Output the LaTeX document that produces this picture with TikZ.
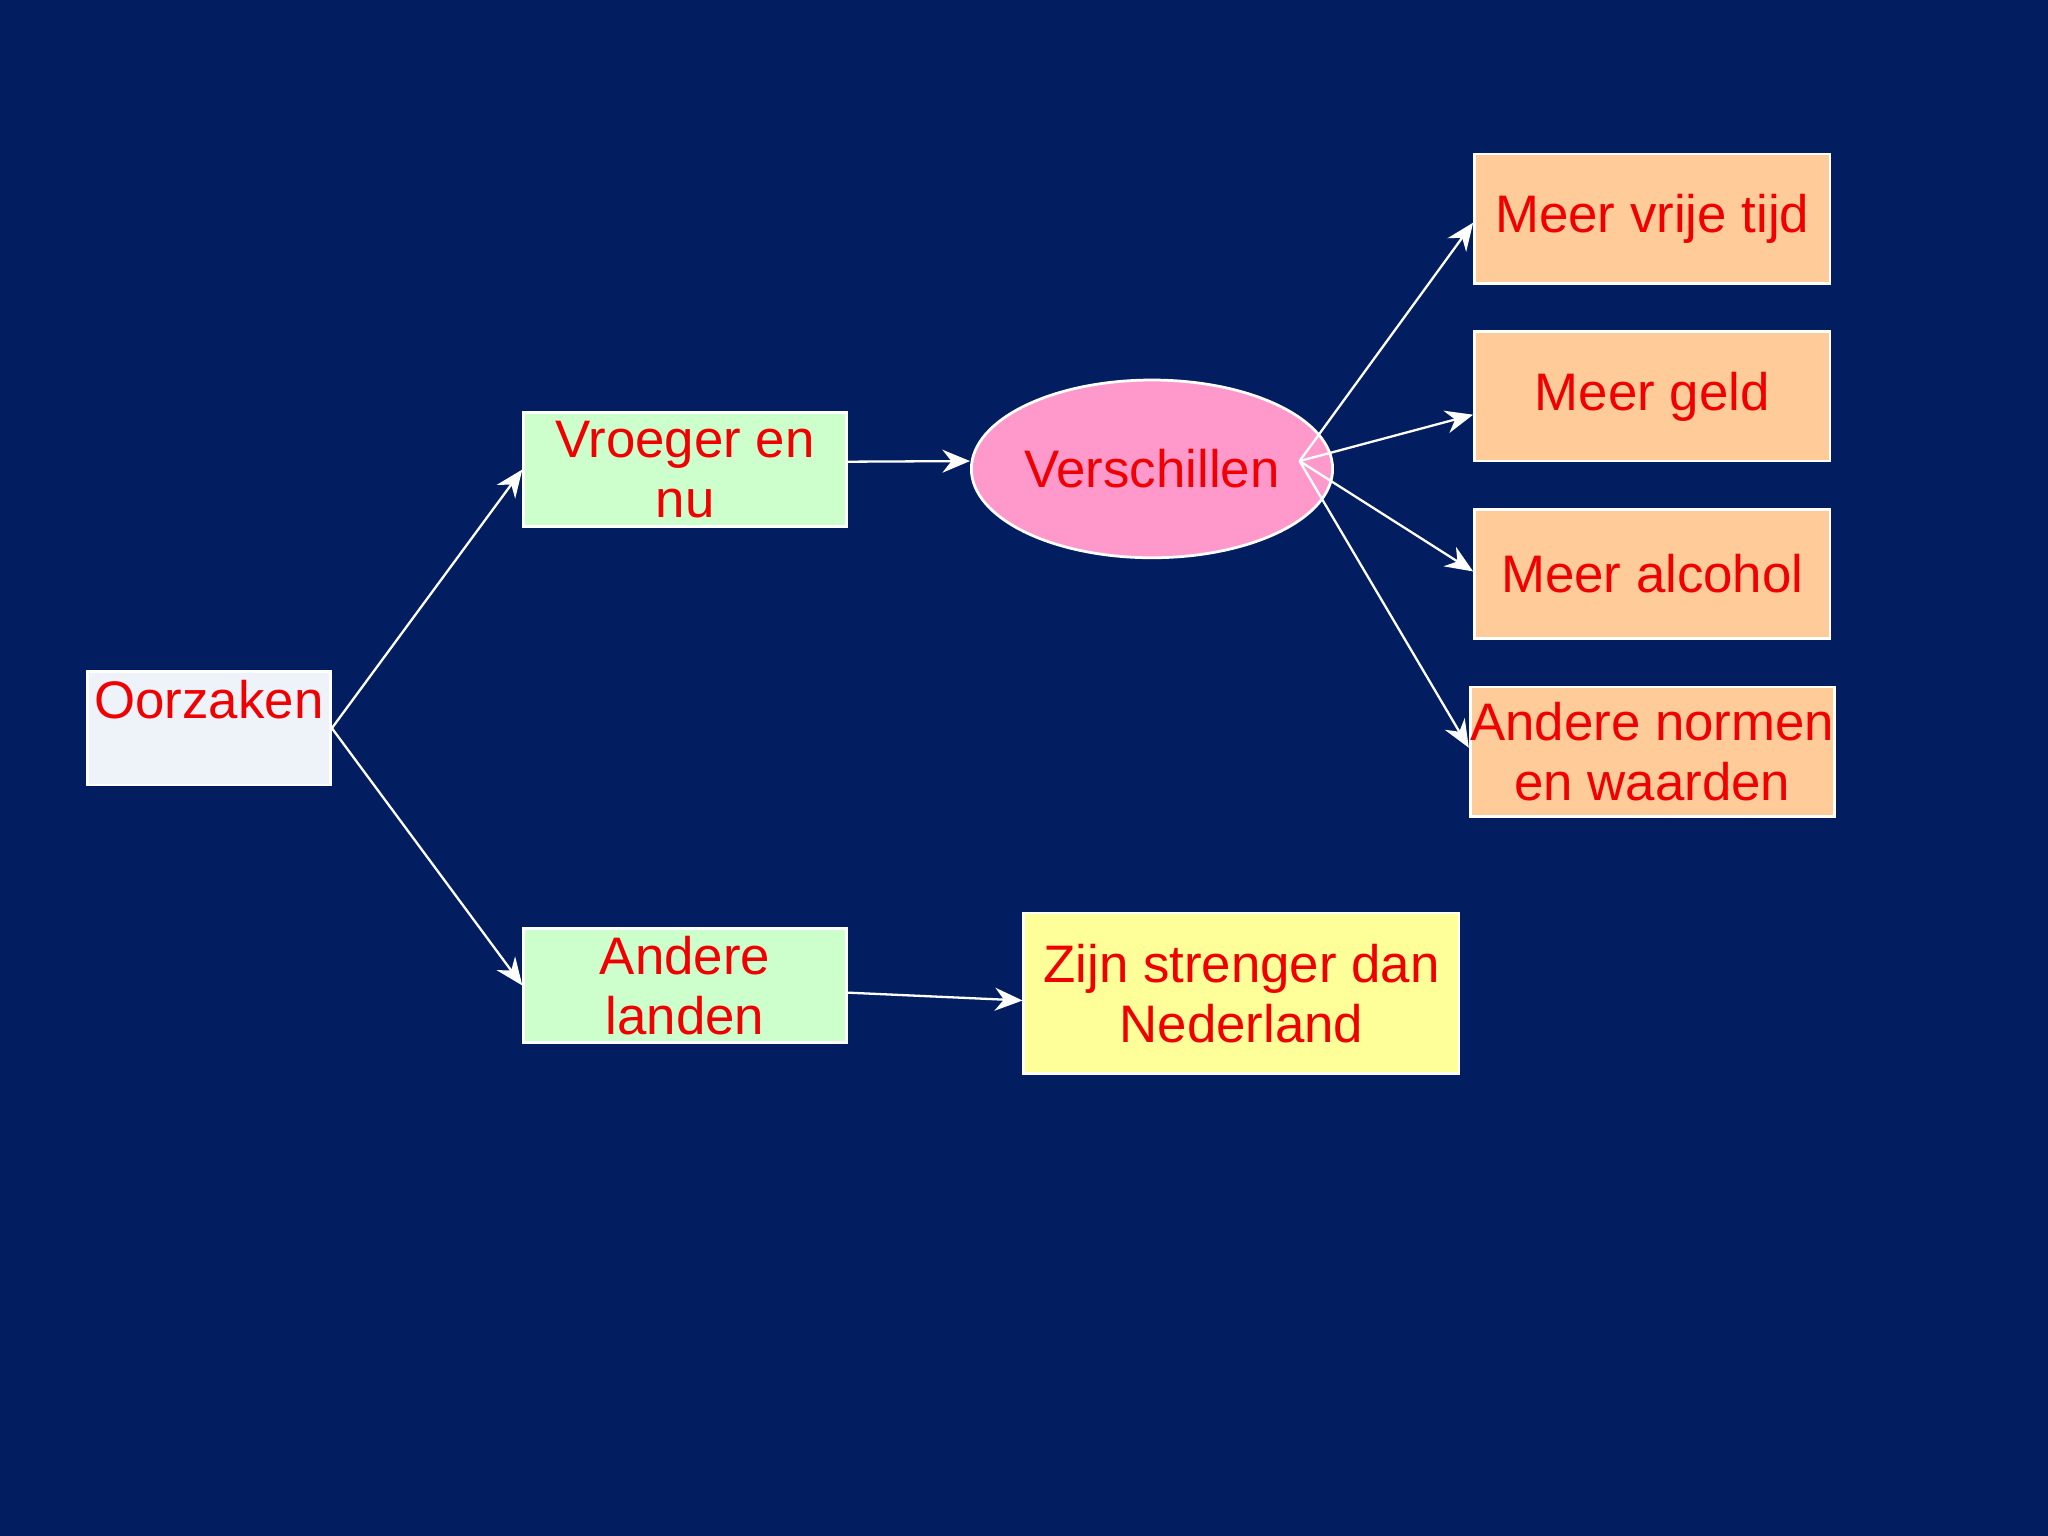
\documentclass[tikz,border=0pt]{standalone}
\usepackage{fontspec}
\setmainfont{Liberation Sans}
\usetikzlibrary{shapes.geometric,arrows.meta}
\definecolor{bg}{RGB}{2,30,96}
\definecolor{txt}{RGB}{240,0,0}
\begin{document}
\begin{tikzpicture}[x=0.01cm,y=-0.01cm,
  box/.style={draw=white,line width=0.6pt,inner sep=0pt,font=\fontsize{11.5}{13}\selectfont,text=txt,align=center},
  conn/.style={draw=white,line width=0.5pt,-{Stealth[length=6pt,width=5pt]}}]
\fill[bg] (0,0) rectangle (1568,1176);
\useasboundingbox (0,0) rectangle (1568,1176);
\node[box,fill={rgb,255:red,238;green,243;blue,250},minimum width=1.86cm,minimum height=0.87cm] (oo) at (160,557.5) {};
\node[font=\fontsize{11.5}{13}\selectfont,text=txt] (ootxt) at (160,536) {Oorzaken};
\node[box,fill={rgb,255:red,204;green,255;blue,204},minimum width=2.47cm,minimum height=0.87cm] (vr) at (524.5,359.5) {Vroeger en\\nu};
\node[box,fill={rgb,255:red,204;green,255;blue,204},minimum width=2.47cm,minimum height=0.87cm] (al) at (524.5,754.5) {Andere\\landen};
\node[box,ellipse,fill={rgb,255:red,255;green,153;blue,204},minimum width=2.22cm,minimum height=1.36cm] (ve) at (882,359) {Verschillen};
\node[box,fill={rgb,255:red,255;green,255;blue,153},minimum width=3.33cm,minimum height=1.23cm] (zs) at (950.5,760.5) {Zijn strenger dan\\Nederland};
\foreach \n/\y/\t in {m1/167.5/Meer vrije tijd,m2/303.5/Meer geld,m3/439.5/Meer alcohol,m4/575.5/{Andere normen\\en waarden}}
  \node[box,fill={rgb,255:red,255;green,204;blue,153},minimum width=2.72cm,minimum height=0.99cm] (\n) at (1265,\y) {\t};
\draw[conn] (oo.east) -- (vr.west);
\draw[conn] (oo.east) -- (al.west);
\draw[conn] ([yshift=0.06cm]vr.east) -- ([yshift=0.06cm]ve.west);
\draw[conn] ([yshift=-0.055cm]al.east) -- ([yshift=-0.055cm]zs.west);
\coordinate (vs) at (995,353);
\draw[conn] (vs) -- ([yshift=-0.03cm]m1.west);
\draw[conn] (vs) -- ([yshift=-0.14cm]m2.west);
\draw[conn] (vs) -- ([yshift=0.02cm]m3.west);
\draw[conn] (vs) -- ([yshift=0.03cm]m4.west);
\end{tikzpicture}
\end{document}
